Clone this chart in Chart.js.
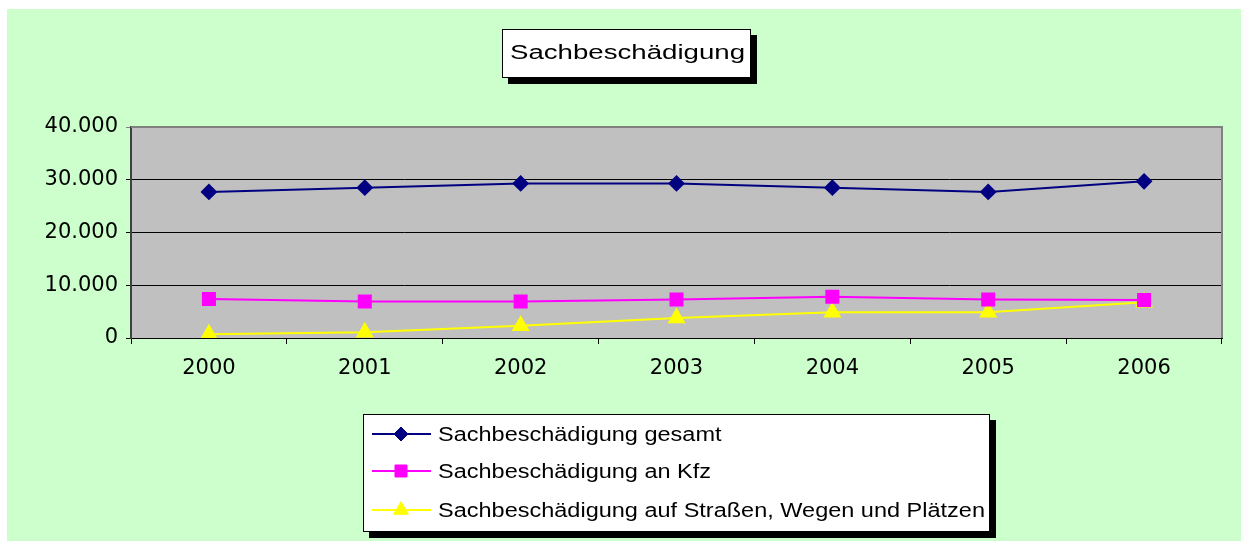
<!DOCTYPE html>
<html>
<head>
<meta charset="utf-8">
<script src="https://cdn.jsdelivr.net/npm/chart.js@4/dist/chart.umd.min.js"></script>
<style>
  html, body { margin: 0; padding: 0; background: #fff; }
  canvas { display: block; }
</style>
</head>
<body>
<canvas id="chart" width="1241" height="541"></canvas>
<script>
const years = ['2000', '2001', '2002', '2003', '2004', '2005', '2006'];
const gesamt = [27700, 28500, 29300, 29300, 28500, 27700, 29700];
const kfz = [7400, 6900, 6900, 7300, 7800, 7300, 7200];
const strassen = [700, 1100, 2300, 3800, 4900, 4900, 6800];
const yTicks = [0, 10000, 20000, 30000, 40000];

const titleText = 'Sachbeschädigung';
const labelFont = '"Liberation Sans", Arial, sans-serif';

Chart.defaults.font.family = '"DejaVu Sans", sans-serif';
Chart.defaults.color = '#000';

// text in the original looks horizontally stretched, so squeeze it to a target width
function stretchText(ctx, text, x, y, sx) {
    ctx.save();
    ctx.translate(x, y);
    ctx.scale(sx, 1);
    ctx.fillText(text, 0, 0);
    ctx.restore();
}

function shadowBox(ctx, x, y, w, h) {
    ctx.fillStyle = '#000';
    ctx.fillRect(x + 6, y + 6, w, h);
    ctx.fillStyle = '#fff';
    ctx.fillRect(x, y, w, h);
    ctx.strokeStyle = '#000';
    ctx.lineWidth = 1;
    ctx.strokeRect(x + 0.5, y + 0.5, w - 1, h - 1);
}

const backdrop = {
    id: 'backdrop',
    beforeDraw(chart) {
        const {ctx, chartArea: a} = chart;
        ctx.save();
        ctx.fillStyle = '#CCFFCC';
        ctx.fillRect(7, 9, chart.width - 7, chart.height - 9);
        ctx.fillStyle = '#C0C0C0';
        ctx.fillRect(a.left, a.top, a.right - a.left, a.bottom - a.top);
        ctx.restore();
    },
    beforeDatasetsDraw(chart) {
        const {ctx, chartArea: a} = chart;
        ctx.save();
        ctx.strokeStyle = '#808080';
        ctx.lineWidth = 2;
        ctx.beginPath();
        ctx.moveTo(a.left, a.top);
        ctx.lineTo(a.right, a.top);
        ctx.lineTo(a.right, a.bottom);
        ctx.stroke();
        ctx.restore();
    },
    afterDraw(chart) {
        const ctx = chart.ctx;
        ctx.save();
        ctx.font = '20px ' + labelFont;
        ctx.fillStyle = '#000';
        ctx.textBaseline = 'alphabetic';

        // title box
        shadowBox(ctx, 502, 29, 249, 49);
        ctx.fillStyle = '#000';
        const tw = ctx.measureText(titleText).width;
        stretchText(ctx, titleText, 510, 59, 235 / tw);

        // legend box
        shadowBox(ctx, 363, 414, 627, 118);
        const rows = [434, 471, 510];
        const longest = chart.data.datasets[2].label;
        const sx = 547 / ctx.measureText(longest).width;
        chart.data.datasets.forEach((ds, i) => {
            const y = rows[i];
            ctx.strokeStyle = ds.borderColor;
            ctx.lineWidth = 2;
            ctx.beginPath();
            ctx.moveTo(372, y);
            ctx.lineTo(431, y);
            ctx.stroke();
            ctx.fillStyle = ds.pointBackgroundColor;
            ctx.strokeStyle = ds.pointBorderColor;
            ctx.lineWidth = 1;
            Chart.helpers.drawPoint(ctx, {pointStyle: ds.pointStyle, radius: ds.pointRadius, borderWidth: 1}, 401, y);
            ctx.fillStyle = '#000';
            stretchText(ctx, ds.label, 438, y + 6.5, sx);
        });
        ctx.restore();
    }
};

new Chart(document.getElementById('chart'), {
    type: 'line',
    data: {
        labels: years,
        datasets: [
            {
                label: 'Sachbeschädigung gesamt',
                data: gesamt,
                borderColor: '#000080',
                backgroundColor: '#000080',
                pointBackgroundColor: '#000080',
                pointBorderColor: '#000080',
                pointStyle: 'rectRot',
                pointRadius: 7,
                borderWidth: 2
            },
            {
                label: 'Sachbeschädigung an Kfz',
                data: kfz,
                borderColor: '#FF00FF',
                backgroundColor: '#FF00FF',
                pointBackgroundColor: '#FF00FF',
                pointBorderColor: '#FF00FF',
                pointStyle: 'rect',
                pointRadius: 8.5,
                borderWidth: 2
            },
            {
                label: 'Sachbeschädigung auf Straßen, Wegen und Plätzen',
                data: strassen,
                borderColor: '#FFFF00',
                backgroundColor: '#FFFF00',
                pointBackgroundColor: '#FFFF00',
                pointBorderColor: '#FFFF00',
                pointStyle: 'triangle',
                pointRadius: 8.5,
                borderWidth: 2
            }
        ]
    },
    options: {
        responsive: false,
        animation: false,
        layout: {
            padding: {left: 0, right: 19, top: 127, bottom: 153}
        },
        plugins: {
            legend: {display: false},
            title: {display: false},
            tooltip: {enabled: false}
        },
        scales: {
            x: {
                offset: true,
                afterFit(scale) { scale.height = 50; },
                grid: {
                    offset: true,
                    drawOnChartArea: false,
                    drawTicks: true,
                    tickLength: 6,
                    color: '#000'
                },
                border: {color: '#000', width: 1},
                ticks: {
                    font: {size: 21},
                    padding: 12,
                    maxRotation: 0
                }
            },
            y: {
                min: 0,
                max: 40000,
                afterFit(scale) { scale.width = 131; },
                afterBuildTicks(scale) {
                    scale.ticks = yTicks.map(v => ({value: v}));
                },
                grid: {
                    color: ctx => ctx.tick && ctx.tick.value === 40000 ? '#808080' : '#000',
                    lineWidth: 1,
                    tickLength: 5
                },
                border: {color: '#404040', width: 2},
                ticks: {
                    font: {size: 21},
                    padding: 8,
                    callback: v => v.toLocaleString('de-DE')
                }
            }
        }
    },
    plugins: [backdrop]
});
</script>
</body>
</html>
